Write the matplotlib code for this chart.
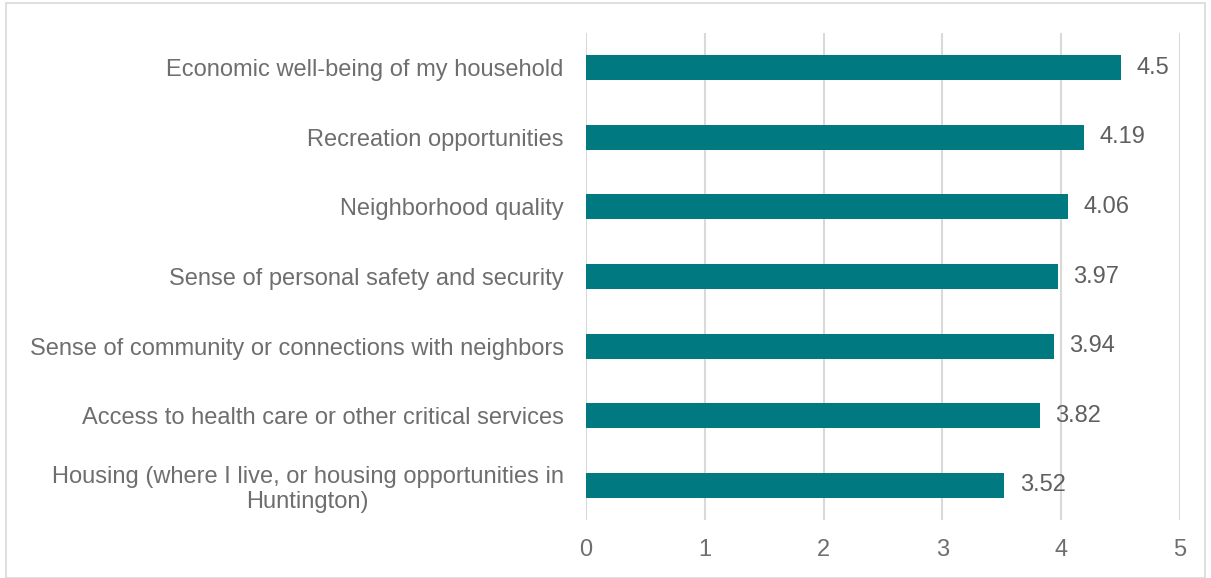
import matplotlib.pyplot as plt
from matplotlib.patches import Rectangle

# ========================= DATA ========================= #
categories = [
    'Housing (where I live, or housing opportunities in\nHuntington)',
    'Access to health care or other critical services',
    'Sense of community or connections with neighbors',
    'Sense of personal safety and security',
    'Neighborhood quality',
    'Recreation opportunities',
    'Economic well-being of my household',
]
scores = [3.52, 3.82, 3.94, 3.97, 4.06, 4.19, 4.5]
score_labels = ['3.52', '3.82', '3.94', '3.97', '4.06', '4.19', '4.5']
xticks = [0, 1, 2, 3, 4, 5]

# ========================= PLOT ========================= #
plt.rcParams['font.family'] = ['Liberation Sans', 'DejaVu Sans']
bar_color = '#007A80'
label_color = '#6e6e6e'
value_color = '#5f5f5f'

fig = plt.figure(figsize=(12.11, 5.78), dpi=100)
ax = fig.add_axes([0.4839, 0.1003, 0.4905, 0.8426])

ypos = list(range(len(categories)))
ax.barh(ypos, scores, height=0.36, color=bar_color, zorder=3)

for y, v, lab in zip(ypos, scores, score_labels):
    ax.text(v + 0.13, y, lab, va='center', ha='left', fontsize=17, color=value_color)

ax.set_xlim(0, 5)
ax.set_ylim(-0.5, len(categories) - 0.5)
ax.set_xticks(xticks)
ax.set_xticklabels([str(t) for t in xticks], fontsize=17, color=label_color)
ax.set_yticks(ypos)
ax.set_yticklabels(categories, fontsize=17, color=label_color, ma='center',
                   linespacing=1.2)
ax.tick_params(length=0)
ax.tick_params(axis='x', pad=14)
ax.tick_params(axis='y', pad=16)
ax.grid(axis='x', color='#d9d9d9', linewidth=1.5, zorder=0)
for s in ax.spines.values():
    s.set_visible(False)

# figure border
fig.patches.append(Rectangle((0.005, 0.0), 0.99, 0.994, transform=fig.transFigure,
                             fill=False, edgecolor='#d9d9d9', linewidth=1.2))

plt.savefig('out.png')
plt.close()
